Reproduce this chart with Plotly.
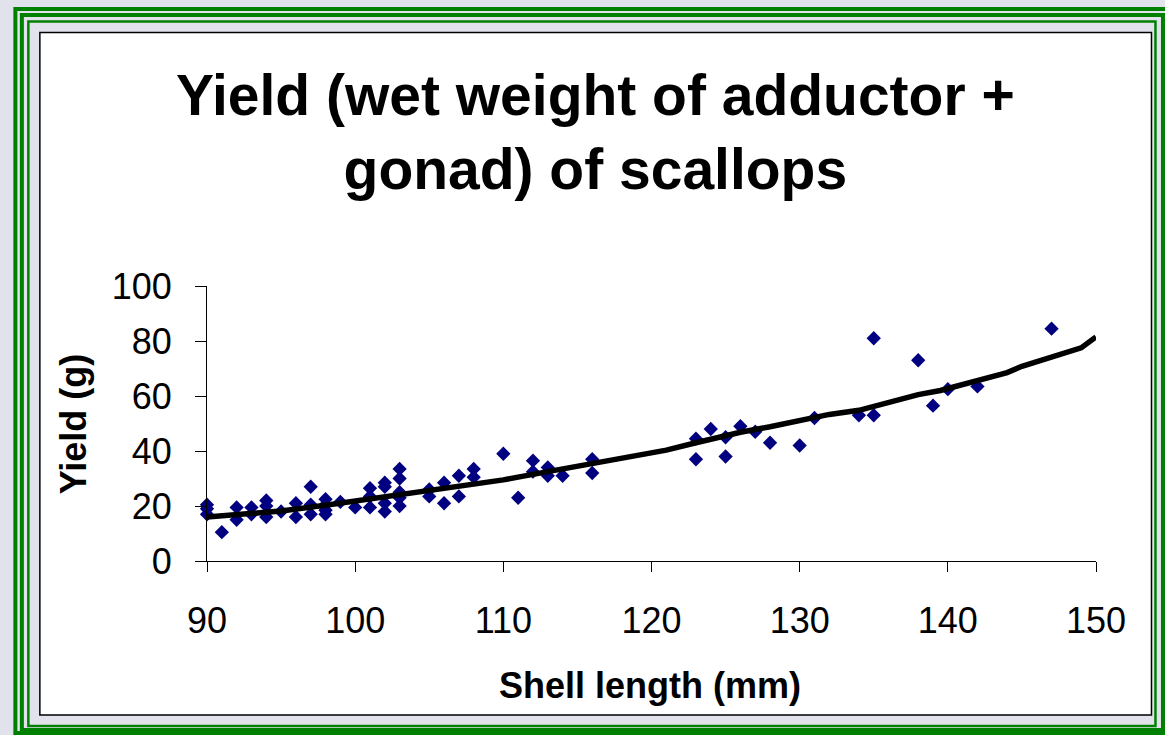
import plotly.graph_objects as go

# Shell length (mm) and yield (g) for each scallop sampled
shell_length = [
    90, 90, 90, 91, 92, 92, 93, 93, 94, 94, 94, 95, 96, 96,
    97, 97, 97, 98, 98, 98, 98, 99, 100, 101, 101, 101,
    102, 102, 102, 102, 103, 103, 103, 103, 103, 105, 105,
    106, 106, 107, 107, 108, 108, 110, 111, 112, 112, 113, 113,
    114, 116, 116, 123, 123, 124, 125, 125, 126, 127, 128,
    130, 131, 134, 135, 135, 138, 139, 140, 142, 147,
]
yield_g = [
    20.5, 19, 17, 10.5, 19.5, 15, 19.5, 17, 22, 20, 16, 18, 21, 16,
    27, 20.5, 17, 22.5, 20.5, 18.5, 17, 21.5, 19.5, 26.5, 23.5, 19.5,
    28.5, 27, 21, 18, 33.5, 30, 25, 23, 20, 26, 23.5,
    28.5, 21, 31, 23.5, 33.5, 30.5, 39, 23, 36.5, 32.5, 34, 31,
    31, 37, 32, 44.5, 37, 48, 45, 38, 49, 47, 43,
    42, 52, 53, 81, 53, 73, 56.5, 62.5, 63.5, 84.5,
]

# Fitted trend curve
trend_x = [90, 92, 95, 98, 100, 103, 106, 110, 113, 116, 118, 119, 121, 123,
           126, 128, 129.5, 131, 132, 134, 136, 138, 139.5, 142, 144, 145,
           147, 149, 150]
trend_y = [16, 16.8, 18.2, 20.3, 21.8, 23.8, 26, 29.5, 32.5, 35.5, 37.2, 38.7,
           40.3, 43, 46.8, 48.8, 50.5, 51.8, 53.3, 54.8, 57.5, 60.5, 62, 65.5,
           68.5, 70.8, 74, 77.5, 81.5]

x_ticks = [90, 100, 110, 120, 130, 140, 150]
y_ticks = [0, 20, 40, 60, 80, 100]

W, H = 1165, 735
ML, MR, MT, MB = 206.7, 69, 286, 174
PW, PH = W - ML - MR, H - MT - MB


def px(x):
    return (x - ML) / PW


def py(y):
    return 1 - (y - MT) / PH


FONT = "Liberation Sans, Arial, sans-serif"
GREEN = "#008000"

fig = go.Figure()
fig.add_trace(go.Scatter(
    x=shell_length, y=yield_g, mode="markers",
    marker=dict(symbol="diamond", size=11, color="#000080",
                line=dict(width=0)),
    showlegend=False, cliponaxis=False,
))
fig.add_trace(go.Scatter(
    x=trend_x, y=trend_y, mode="lines",
    line=dict(color="black", width=5.5),
    showlegend=False, cliponaxis=False,
))

shapes = []


def rect(x0, y0, x1, y1, **kw):
    shapes.append(dict(type="rect", xref="paper", yref="paper",
                       x0=px(x0), x1=px(x1), y0=py(y1), y1=py(y0),
                       layer="below", **kw))


# green triple frame and white chart panel
rect(15, 9, 1167, 733, line=dict(color=GREEN, width=4))
rect(21.5, 15, 1163, 730, line=dict(color=GREEN, width=4))
rect(28, 21.5, 1155.5, 726, line=dict(color=GREEN, width=2.5))
rect(39.5, 32.5, 1151.5, 715, fillcolor="white",
     line=dict(color="black", width=1.5))

annotations = [
    dict(text="<b>Yield (wet weight of adductor +<br>gonad) of scallops</b>",
         xref="paper", yref="paper", x=px(595), y=py(132),
         xanchor="center", yanchor="middle", showarrow=False,
         font=dict(family=FONT, size=57, color="black")),
    dict(text="<b>Shell length (mm)</b>",
         xref="paper", yref="paper", x=px(650), y=py(685),
         xanchor="center", yanchor="middle", showarrow=False,
         font=dict(family=FONT, size=36, color="black")),
    dict(text="<b>Yield (g)</b>", textangle=-90,
         xref="paper", yref="paper", x=px(73), y=py(424),
         xanchor="center", yanchor="middle", showarrow=False,
         font=dict(family=FONT, size=36, color="black")),
]

fig.update_layout(
    width=W, height=H,
    margin=dict(l=ML, r=MR, t=MT, b=MB, pad=0),
    paper_bgcolor="#e2e2ec", plot_bgcolor="white",
    shapes=shapes, annotations=annotations,
    font=dict(family=FONT, color="black"),
    xaxis=dict(range=[90, 150], tickvals=x_ticks, ticktext=[str(v) for v in x_ticks],
               showgrid=False, zeroline=False, showline=True, linecolor="black",
               linewidth=1, ticks="outside", ticklen=10, tickcolor="black",
               tickfont=dict(size=36), ticklabelstandoff=18, automargin=False),
    yaxis=dict(range=[0, 100], tickvals=y_ticks, ticktext=[str(v) for v in y_ticks],
               showgrid=False, zeroline=False, showline=True, linecolor="black",
               linewidth=1, ticks="outside", ticklen=11, tickcolor="black",
               tickfont=dict(size=36), ticklabelstandoff=16, automargin=False),
)

fig.write_html("out.html")
